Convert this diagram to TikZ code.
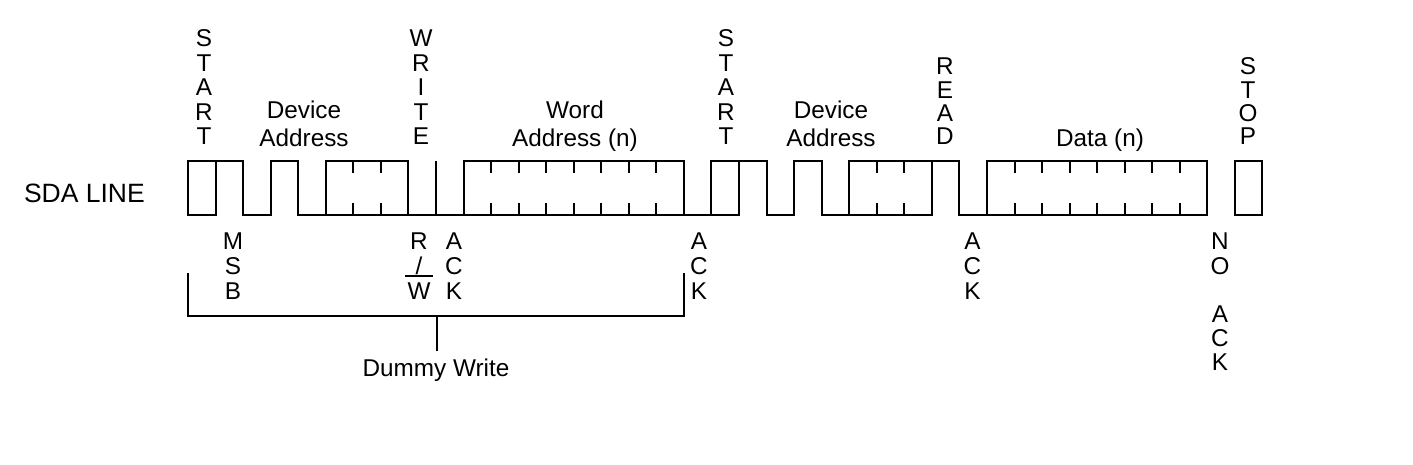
\documentclass[tikz,border=0pt]{standalone}
\usepackage{fontspec}
\setmainfont{Liberation Sans}
\usepackage{tikz}

\begin{document}
\begin{tikzpicture}[x=1pt, y=-1pt, line width=2pt,
  lbl/.style={font=\fontsize{24.3}{28}\selectfont, inner sep=0pt, anchor=base},
  ttl/.style={font=\fontsize{24.3}{28}\selectfont, inner sep=0pt, anchor=north, align=center}]
  \useasboundingbox[fill=white] (0,0) rectangle (1413,465);

  % SDA waveform, one x unit per bit
  \begin{scope}[xshift=188pt, x=27.55pt]
    \draw (0,161) rectangle (1,215);
    \draw (1,161) -- (2,161) -- (2,215) -- (3,215) -- (3,161) -- (4,161) -- (4,215) -- (20,215);
    \draw (5,215) rectangle (8,161);
    \draw (9,161) -- (9,215);
    \draw (10,215) -- (10,161) -- (18,161) -- (18,215);
    \draw (19,215) rectangle (20,161);
    \draw (20,161) -- (21,161) -- (21,215) -- (22,215) -- (22,161) -- (23,161) -- (23,215) -- (27,215);
    \draw (24,215) rectangle (27,161);
    \draw (27,161) -- (28,161) -- (28,215) -- (37,215);
    \draw (29,215) rectangle (37,161);
    \draw (38,215) rectangle (39,161);
    \foreach \t in {6,7,11,12,13,14,15,16,17,25,26,30,31,32,33,34,35,36}
      \draw (\t,161) -- ++(0,12) (\t,215) -- ++(0,-12);
  \end{scope}

  \node[lbl, anchor=base west, font=\fontsize{26.5}{30}\selectfont] (sda) at (23,203) {SDA LINE};

  % labels above the line
  \foreach \ch [count=\i from 0] in {S,T,A,R,T}
    \node[lbl] (starta\i) at (204,47+24.5*\i) {\ch};
  \node[ttl] (devaddra) at (304,99.6) {Device\\Address};
  \foreach \ch [count=\i from 0] in {W,R,I,T,E}
    \node[lbl] (write\i) at (421,47+24.5*\i) {\ch};
  \node[ttl] (wordaddr) at (575,99.6) {Word\\Address (n)};
  \foreach \ch [count=\i from 0] in {S,T,A,R,T}
    \node[lbl] (startb\i) at (726,47+24.5*\i) {\ch};
  \node[ttl] (devaddrb) at (831,99.6) {Device\\Address};
  \foreach \ch [count=\i from 0] in {R,E,A,D}
    \node[lbl] (read\i) at (945,75+23.3*\i) {\ch};
  \node[ttl] (data) at (1100,127.6) {Data (n)};
  \foreach \ch [count=\i from 0] in {S,T,O,P}
    \node[lbl] (stop\i) at (1248,75+23.3*\i) {\ch};

  % labels below the line
  \foreach \ch [count=\i from 0] in {M,S,B}
    \node[lbl] (msb\i) at (233,249+25*\i) {\ch};
  \node[lbl] (rwr) at (419,249) {R};
  \node[lbl] (rwslash) at (419,274) {/};
  \node[lbl] (rww) at (419,299) {W};
  \draw ([xshift=-1.5pt,yshift=5pt]rww.north west) -- ([xshift=1.5pt,yshift=5pt]rww.north east);
  \foreach \x/\n in {454/a, 699/b, 972.5/c}
    \foreach \ch [count=\i from 0] in {A,C,K}
      \node[lbl] (ack\n\i) at (\x,249+25*\i) {\ch};
  \foreach \ch/\y [count=\i from 0] in {N/249, O/274, A/322, C/346, K/370}
    \node[lbl] (noack\i) at (1220,\y) {\ch};

  % dummy write bracket
  \draw (188,273) -- (188,316) -- (684,316) -- (684,273);
  \coordinate (brace) at (437,316);
  \node[lbl] (dummy) at (436,376) {Dummy Write};
  \draw (brace) -- (437,351);
\end{tikzpicture}
\end{document}
